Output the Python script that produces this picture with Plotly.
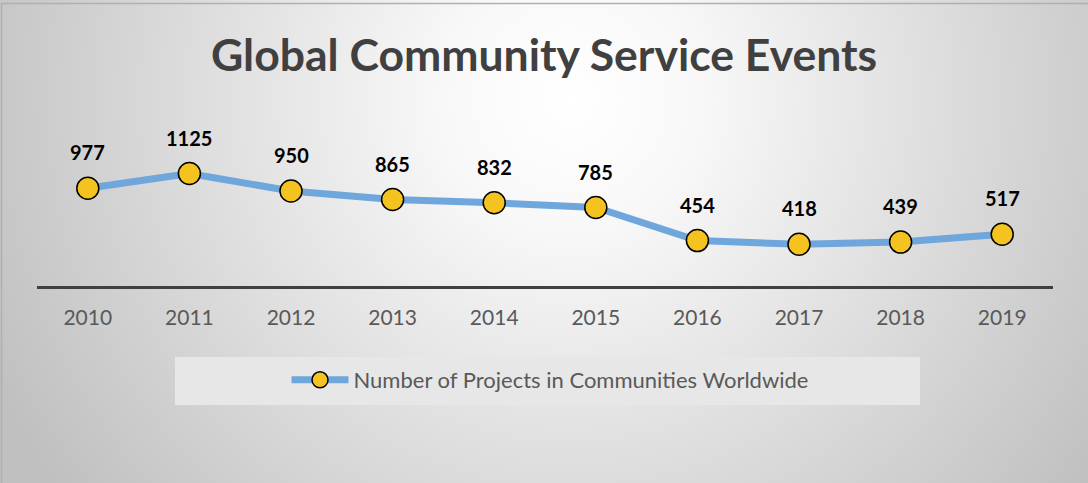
import base64
import plotly.graph_objects as go

# ---- data ----
years = ["2010", "2011", "2012", "2013", "2014", "2015", "2016", "2017", "2018", "2019"]
projects = [977, 1125, 950, 865, 832, 785, 454, 418, 439, 517]
series_name = "Number of Projects in Communities Worldwide"
title_text = "Global Community Service Events"

W, H = 1088, 483
FONT = "Lato"

# plot area in pixels
px0, px1 = 37, 1053
py_top, py_bot = 166, 286

def fx(p):
    return p / W

def fy(p):
    return 1 - p / H

# radial gradient background as an SVG image
svg = f'''<svg xmlns="http://www.w3.org/2000/svg" width="{W}" height="{H}" viewBox="0 0 {W} {H}" preserveAspectRatio="none">
<defs><radialGradient id="g" gradientUnits="userSpaceOnUse" cx="570" cy="100" r="640">
<stop offset="0" stop-color="#ffffff"/><stop offset="0.2" stop-color="#f8f8f8"/><stop offset="1" stop-color="#c0c0c0"/></radialGradient></defs>
<rect x="0" y="0" width="{W}" height="{H}" fill="url(#g)"/></svg>'''
svg_uri = "data:image/svg+xml;base64," + base64.b64encode(svg.encode()).decode()

fig = go.Figure()
fig.add_trace(go.Scatter(
    x=years, y=projects, mode="lines+markers", name=series_name,
    line=dict(color="#6fa6dc", width=7),
    marker=dict(size=22, color="#f5c31f", line=dict(color="#000000", width=1.5)),
    cliponaxis=False, showlegend=True,
))

annotations = []
for i, v in enumerate(projects):
    annotations.append(dict(
        x=i, y=v, xref="x", yref="y", text=f"<b>{v}</b>", showarrow=False,
        yanchor="middle", xanchor="center", yshift=36,
        font=dict(family=FONT, size=20, color="#000000"),
    ))

fig.update_layout(
    width=W, height=H, autosize=False,
    margin=dict(l=0, r=0, t=0, b=0, pad=0),
    paper_bgcolor="#d9d9d9", plot_bgcolor="rgba(0,0,0,0)",
    title=dict(text=f"<b>{title_text}</b>", x=0.5, xanchor="center", y=fy(55), yanchor="middle",
               font=dict(family=FONT, size=44.5, color="#404040")),
    xaxis=dict(domain=[fx(px0), fx(px1)], type="category", range=[-0.5, 9.5],
               showgrid=False, zeroline=False, showline=True, linecolor="#404040", linewidth=3,
               ticks="", ticklabelstandoff=11,
               tickfont=dict(family=FONT, size=21, color="#595959")),
    yaxis=dict(domain=[fy(py_bot), fy(py_top)], range=[0, 1200], visible=False, fixedrange=True),
    legend=dict(x=fx(550), y=fy(380), xanchor="center", yanchor="middle", orientation="h",
                bgcolor="rgba(0,0,0,0)", itemwidth=57,
                font=dict(family=FONT, size=22, color="#595959")),
    annotations=annotations,
    images=[dict(source=svg_uri, xref="paper", yref="paper", x=0, y=1, sizex=1, sizey=1,
                 xanchor="left", yanchor="top", sizing="stretch", layer="below")],
    shapes=[
        dict(type="rect", xref="paper", yref="paper", x0=fx(175), x1=fx(920), y0=fy(405), y1=fy(357),
             fillcolor="#e7e7e7", line=dict(width=0), layer="below"),
        dict(type="rect", xref="paper", yref="paper", x0=fx(1.5), x1=fx(1090), y0=fy(485), y1=fy(3.5),
             fillcolor="rgba(0,0,0,0)", line=dict(color="#b0b0b0", width=1.5), layer="above"),
    ],
)

fig.write_html("out.html", config={"displayModeBar": False},
               post_script="document.body.style.margin='0';")
